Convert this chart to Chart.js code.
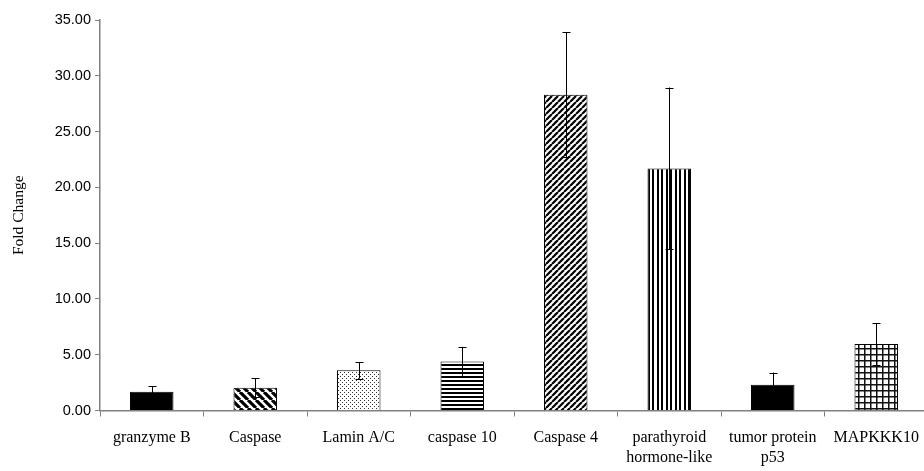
<!DOCTYPE html>
<html>
<head>
<meta charset="utf-8">
<script src="https://cdn.jsdelivr.net/npm/chart.js@4"></script>
<style>
  html, body { margin: 0; padding: 0; background: #fff; overflow: hidden; }
  #wrap { width: 932px; height: 471px; }
</style>
</head>
<body>
<div id="wrap"><canvas id="c"></canvas></div>
<script>
// values
const genes = ['granzyme B', 'Caspase', 'Lamin A/C', 'caspase 10', 'Caspase 4',
  ['parathyroid', 'hormone-like'], ['tumor protein', 'p53'], 'MAPKKK10'];
const foldChange = [1.67, 2.05, 3.6, 4.4, 28.3, 21.7, 2.3, 5.95];
const errors = [0.5, 0.85, 0.75, 1.3, 5.6, 7.25, 1.1, 1.85];
const yTicks = [0, 5, 10, 15, 20, 25, 30, 35];

// little tiles for the hatch fills
function tile(w, h, draw) {
  const t = document.createElement('canvas');
  t.width = w; t.height = h;
  const g = t.getContext('2d');
  g.fillStyle = '#fff';
  g.fillRect(0, 0, w, h);
  g.fillStyle = '#000';
  g.strokeStyle = '#000';
  draw(g, w, h);
  return document.createElement('canvas').getContext('2d').createPattern(t, 'repeat');
}

function diag(n, lw, back) {
  return tile(n, n, (g) => {
    g.lineWidth = lw;
    g.beginPath();
    for (let k = -1; k <= 1; k++) {
      if (back) { g.moveTo(k * n, 0); g.lineTo(k * n + n, n); }
      else { g.moveTo(k * n, n); g.lineTo(k * n + n, 0); }
    }
    g.stroke();
  });
}

const backDiag = diag(8, 3.2, true);
const fwdDiag = diag(6, 2.2, false);
const dots = tile(4, 4, (g) => {
  g.fillStyle = '#333';
  g.fillRect(0, 0, 1, 1);
  g.fillRect(2, 2, 1, 1);
});
const horiz = tile(1, 4, (g) => { g.fillRect(0, 0, 1, 2); });
const vert = tile(9, 1, (g) => { g.fillRect(0, 0, 2, 1); g.fillRect(4, 0, 2, 1); });
const grid = tile(6, 6, (g) => {
  g.fillStyle = '#111';
  g.fillRect(0, 0, 6, 1.5); g.fillRect(0, 0, 1.5, 6);
});

const fills = ['#000', backDiag, dots, horiz, fwdDiag, vert, '#000', grid];

const errorBars = {
  id: 'errorBars',
  afterDatasetsDraw(chart) {
    const ctx = chart.ctx;
    const y = chart.scales.y;
    const meta = chart.getDatasetMeta(0);
    ctx.save();
    ctx.strokeStyle = '#000';
    ctx.lineWidth = 1;
    meta.data.forEach((bar, i) => {
      const x = Math.round(bar.x) + 0.5;
      const top = y.getPixelForValue(foldChange[i] + errors[i]);
      const bot = y.getPixelForValue(foldChange[i] - errors[i]);
      ctx.beginPath();
      ctx.moveTo(x, top); ctx.lineTo(x, bot);
      ctx.moveTo(x - 4, Math.round(top) + 0.5); ctx.lineTo(x + 4, Math.round(top) + 0.5);
      ctx.moveTo(x - 4, Math.round(bot) + 0.5); ctx.lineTo(x + 4, Math.round(bot) + 0.5);
      ctx.stroke();
    });
    ctx.restore();
  }
};

new Chart(document.getElementById('c'), {
  type: 'bar',
  data: {
    labels: genes,
    datasets: [{
      data: foldChange,
      backgroundColor: fills,
      borderColor: '#000',
      borderWidth: 1,
      barPercentage: 0.42,
      categoryPercentage: 1
    }]
  },
  plugins: [errorBars],
  options: {
    responsive: true,
    maintainAspectRatio: false,
    animation: false,
    layout: { padding: { top: 20, right: 4, left: 0, bottom: 0 } },
    plugins: { legend: { display: false }, tooltip: { enabled: false } },
    scales: {
      x: {
        grid: { offset: true, drawOnChartArea: false, tickLength: 6, color: '#808080' },
        border: { color: '#808080', width: 1.5 },
        ticks: { color: '#000', padding: 12, maxRotation: 0, autoSkip: false,
          font: { family: 'Liberation Serif', size: 16, lineHeight: 1.2 } },
        afterFit(s) { s.height = 60.5; }
      },
      y: {
        min: 0, max: 35,
        afterBuildTicks(s) { s.ticks = yTicks.map(v => ({ value: v })); },
        grid: { drawOnChartArea: false, tickLength: 5, color: '#808080' },
        border: { color: '#808080', width: 1.5 },
        ticks: { color: '#000', padding: 4,
          font: { family: 'Liberation Sans', size: 14.5 },
          callback: v => v.toFixed(2) },
        title: { display: true, text: 'Fold Change', color: '#000',
          font: { family: 'Liberation Serif', size: 15.5 }, padding: { top: 10, bottom: 0 } },
        afterFit(s) { s.width = 100; }
      }
    }
  }
});
</script>
</body>
</html>
